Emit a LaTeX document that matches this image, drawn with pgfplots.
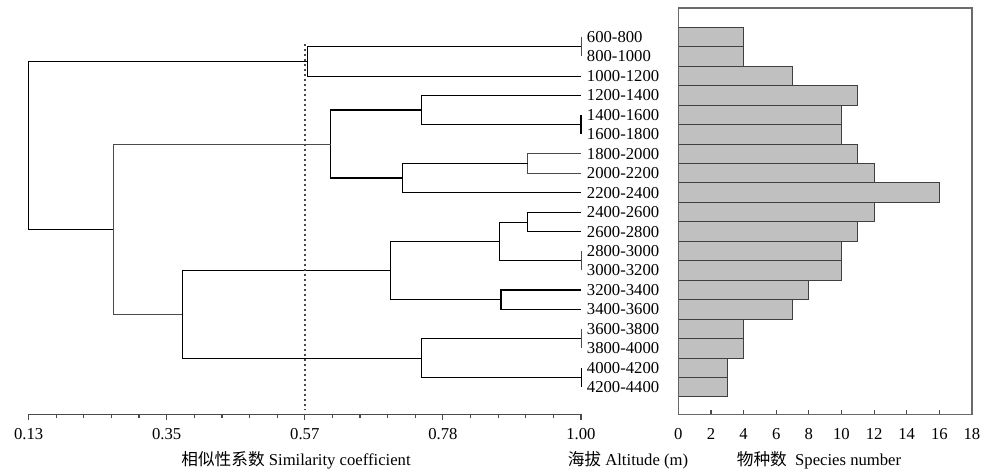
\documentclass[border=0pt]{standalone}
\usepackage{fontspec}
\setmainfont{Liberation Serif}
\newfontfamily\cjk{Noto Sans CJK SC}
\usepackage{pgfplots}
\pgfplotsset{compat=1.18}
\definecolor{lnk}{HTML}{4A4A4A}
\definecolor{barfill}{HTML}{C0C0C0}
\definecolor{bardraw}{HTML}{404040}
\definecolor{frm}{HTML}{6A6A6A}

\begin{document}
\begin{tikzpicture}
\useasboundingbox (0,0) rectangle (588.6pt,282.6pt);
\fontsize{10}{12}\selectfont

% dendrogram
\begin{axis}[
    at={(17.16pt,33.9pt)}, anchor=south west,
    scale only axis, width=331.44pt, height=243.9pt,
    xmin=0.13, xmax=1, ymin=-1.4, ymax=19.49,
    axis x line*=bottom, axis y line=none,
    clip=false,
    xtick={0.13,0.3475,0.565,0.7825,1},
    xticklabels={0.13,0.35,0.57,0.78,1.00},
    minor x tick num=4,
    tick align=outside,
    major tick length=3.6pt, minor tick length=2.4pt,
    x axis line style={lnk, line width=0.8pt},
    every tick/.style={lnk, line width=0.7pt},
    xticklabel style={font=\fontsize{10}{12}\selectfont, yshift=-1pt},
    cycle list={{lnk, solid, line width=0.75pt, mark=none}},
]
\addplot coordinates {(1,18) (1,17)};
\addplot coordinates {(1,17.5) (0.569,17.5) (0.569,16) (1,16)};
\addplot coordinates {(1,14) (1,13)};
\addplot coordinates {(1,15) (0.749,15) (0.749,13.5) (1,13.5)};
\addplot coordinates {(1,12) (0.916,12) (0.916,11) (1,11)};
\addplot coordinates {(0.916,11.5) (0.718,11.5) (0.718,10) (1,10)};
\addplot coordinates {(0.749,14.25) (0.606,14.25) (0.606,10.75) (0.718,10.75)};
\addplot coordinates {(1,9) (0.916,9) (0.916,8) (1,8)};
\addplot coordinates {(1,7) (1,6)};
\addplot coordinates {(0.916,8.5) (0.871,8.5) (0.871,6.5) (1,6.5)};
\addplot coordinates {(1,5) (0.874,5) (0.874,4) (1,4)};
\addplot coordinates {(0.871,7.5) (0.700,7.5) (0.700,4.5) (0.874,4.5)};
\addplot coordinates {(1,3) (1,2)};
\addplot coordinates {(1,1) (1,0)};
\addplot coordinates {(1,2.5) (0.749,2.5) (0.749,0.5) (1,0.5)};
\addplot coordinates {(0.700,6) (0.372,6) (0.372,1.5) (0.749,1.5)};
\addplot coordinates {(0.606,12.5) (0.263,12.5) (0.263,3.75) (0.372,3.75)};
\addplot coordinates {(0.569,16.75) (0.13,16.75) (0.13,8.125) (0.263,8.125)};
% similarity threshold
\addplot[lnk, line width=0.9pt, dash pattern=on 1.5pt off 1.5pt] coordinates {(0.565,17.64) (0.565,-1.16)};

\node[anchor=west, inner sep=0, xshift=3.4pt] at (axis cs:1,18) {600-800};
\node[anchor=west, inner sep=0, xshift=3.4pt] at (axis cs:1,17) {800-1000};
\node[anchor=west, inner sep=0, xshift=3.4pt] at (axis cs:1,16) {1000-1200};
\node[anchor=west, inner sep=0, xshift=3.4pt] at (axis cs:1,15) {1200-1400};
\node[anchor=west, inner sep=0, xshift=3.4pt] at (axis cs:1,14) {1400-1600};
\node[anchor=west, inner sep=0, xshift=3.4pt] at (axis cs:1,13) {1600-1800};
\node[anchor=west, inner sep=0, xshift=3.4pt] at (axis cs:1,12) {1800-2000};
\node[anchor=west, inner sep=0, xshift=3.4pt] at (axis cs:1,11) {2000-2200};
\node[anchor=west, inner sep=0, xshift=3.4pt] at (axis cs:1,10) {2200-2400};
\node[anchor=west, inner sep=0, xshift=3.4pt] at (axis cs:1,9) {2400-2600};
\node[anchor=west, inner sep=0, xshift=3.4pt] at (axis cs:1,8) {2600-2800};
\node[anchor=west, inner sep=0, xshift=3.4pt] at (axis cs:1,7) {2800-3000};
\node[anchor=west, inner sep=0, xshift=3.4pt] at (axis cs:1,6) {3000-3200};
\node[anchor=west, inner sep=0, xshift=3.4pt] at (axis cs:1,5) {3200-3400};
\node[anchor=west, inner sep=0, xshift=3.4pt] at (axis cs:1,4) {3400-3600};
\node[anchor=west, inner sep=0, xshift=3.4pt] at (axis cs:1,3) {3600-3800};
\node[anchor=west, inner sep=0, xshift=3.4pt] at (axis cs:1,2) {3800-4000};
\node[anchor=west, inner sep=0, xshift=3.4pt] at (axis cs:1,1) {4000-4200};
\node[anchor=west, inner sep=0, xshift=3.4pt] at (axis cs:1,0) {4200-4400};
\end{axis}

% species number
\begin{axis}[
    at={(406.98pt,33.9pt)}, anchor=south west,
    scale only axis, width=176.2pt, height=243.9pt,
    xmin=0, xmax=18, ymin=-1.4, ymax=19.49,
    xtick={0,2,...,18}, ytick=\empty,
    xtick pos=lower, tick align=inside,
    major tick length=2.4pt,
    axis line style={frm, line width=0.9pt},
    every tick/.style={lnk, line width=0.7pt},
    xticklabel style={font=\fontsize{10}{12}\selectfont, yshift=-5pt},
    /pgf/number format/assume math mode=true,
]
\addplot[xbar, bar width=1, fill=barfill, draw=bardraw, line width=0.6pt]
coordinates {
    (4,18) (4,17) (7,16) (11,15) (10,14) (10,13) (11,12) (12,11) (16,10)
    (12,9) (11,8) (10,7) (10,6) (8,5) (7,4) (4,3) (4,2) (3,1) (3,0)
};
\end{axis}

\node at (177.6pt,6.6pt) {{\cjk 相似性系数} Similarity coefficient};
\node at (376.8pt,6.6pt) {{\cjk 海拔} Altitude (m)};
\node at (491.4pt,6.6pt) {{\cjk 物种数}\enspace Species number};
\end{tikzpicture}
\end{document}
